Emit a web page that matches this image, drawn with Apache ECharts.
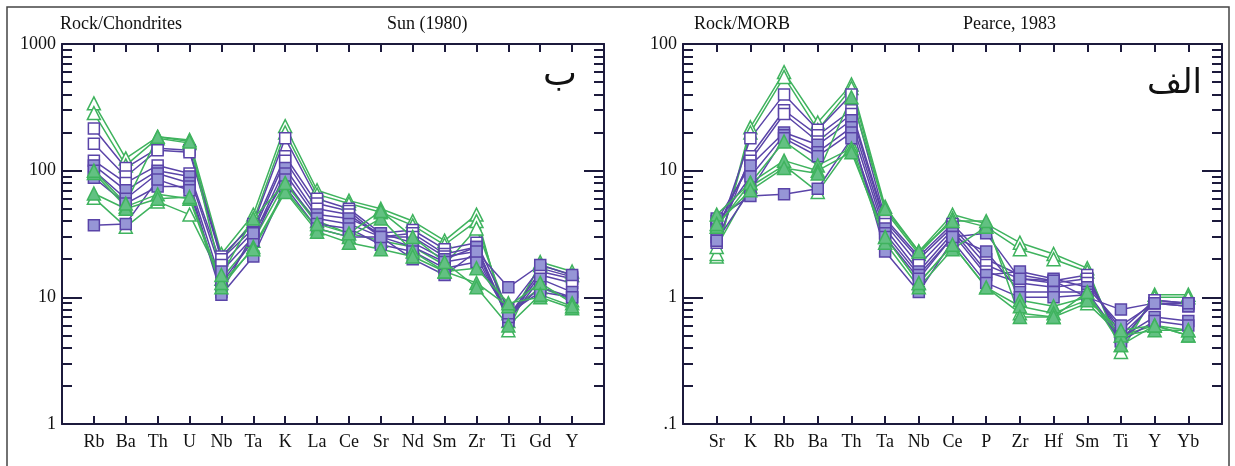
<!DOCTYPE html>
<html><head><meta charset="utf-8">
<script src="https://cdn.jsdelivr.net/npm/echarts@6/dist/echarts.min.js"></script>
<style>html,body{margin:0;padding:0;background:#fff}#c{width:1235px;height:466px}</style>
</head><body><div id="c"></div>
<script>
// ---- categories ----
const chondCategories = ['Rb','Ba','Th','U','Nb','Ta','K','La','Ce','Sr','Nd','Sm','Zr','Ti','Gd','Y'];
const morbCategories  = ['Sr','K','Rb','Ba','Th','Ta','Nb','Ce','P','Zr','Hf','Sm','Ti','Y','Yb'];
const chondTicks = ['1','10','100','1000'];
const morbTicks  = ['.1','1','10','100'];

// ---- Rock/Chondrites (Sun 1980) ----
const chondGO1 = [340,125,185,175,22,45,225,70,58,50,40,28,45,5.5,19,16];
const chondGO2 = [285,110,180,165,20,40,200,65,55,47,37,26,40,6.5,18,15];
const chondGO3 = [61,36,57,45,14,28,80,40,32,28,25,18,35,7.5,12,9.5];
const chondPO1 = [215,105,150,145,21,38,180,60,50,32,34,24,27,8,17,14.5];
const chondPO2 = [163,90,145,140,20,35,130,55,48,30,32,22,25,7,16,14];
const chondPO3 = [120,80,110,95,18,33,120,50,45,30,30,21,23,6.8,15,13];
const chondPF1 = [110,70,100,90,16,30,105,45,42,32,27,20,25,6.5,14,11];
const chondPF2 = [100,60,95,80,13,28,95,42,38,30,25,19,21,7,12,10];
const chondPF3 = [88,55,75,75,11,32,85,38,35,26,23,17,19,7.5,11,10];
const chondPF4 = [37,38,85,70,10.5,21,75,35,30,30,20,15,23,12,18,15];
const chondGF1 = [96,52,65,60,12,25,70,35,30,42,23,16,13,8.5,13,9];
const chondGF2 = [66,50,60,62,13,24,68,33,27,24,21,16,17,9,10,8.2];
const chondGF3 = [100,55,185,170,15,42,80,38,32,48,30,19,12,6,10.5,8.5];

// ---- Rock/MORB (Pearce 1983) ----
const morbGO1 = [2.1,22,60,24,48,5.2,2.3,4.5,3.8,2.7,2.2,1.7,0.37,1.05,1.05];
const morbGO2 = [2.2,20,55,21,45,4.8,2.2,4.2,3.6,2.4,2.0,1.6,0.42,1.0,1.0];
const morbGO3 = [2.5,7.5,11,6.8,16,3.0,1.3,2.6,1.2,0.75,0.7,0.9,0.5,0.6,0.5];
const morbPO1 = [3.0,18,40,21,40,4.2,2.1,3.8,2.0,1.5,1.35,1.5,0.45,0.95,0.9];
const morbPO2 = [2.7,13,30,19,30,4.0,2.0,3.6,1.8,1.4,1.3,1.4,0.5,0.9,0.85];
const morbPO3 = [3.5,12,28,17,28,3.8,1.8,3.4,1.6,1.3,1.2,1.3,0.55,0.95,0.9];
const morbPF1 = [4.0,11,20,16,25,3.5,1.6,3.2,1.5,1.6,1.4,1.2,0.6,0.9,0.85];
const morbPF2 = [3.8,9,19,14,22,3.2,1.5,3.0,2.3,1.1,1.1,1.1,0.48,0.7,0.65];
const morbPF3 = [2.8,7,18,13,20,2.3,1.1,2.8,1.3,1.0,1.0,1.05,0.45,0.65,0.6];
const morbPF4 = [4.2,6.3,6.5,7.2,18,3.0,1.4,3.0,3.2,1.4,1.35,1.0,0.8,0.9,0.9];
const morbGF1 = [4.5,8,17,11,15,2.7,1.2,2.4,3.6,0.95,0.85,1.0,0.5,0.55,0.55];
const morbGF2 = [3.6,8,12,10,14,3.0,1.3,2.6,1.2,0.85,0.75,0.95,0.55,0.6,0.5];
const morbGF3 = [3.8,7,10.5,9.5,38,5.0,2.3,4.0,4.0,0.7,0.7,1.1,0.42,0.6,0.55];

const PURPLE = '#5a44a8', PURPLE_FILL = '#9696d6';
const GREEN = '#3fb35e', GREEN_FILL = '#62c182';
const AX = '#1c1a3c';
const FONT = '"Liberation Serif", "DejaVu Serif", serif';

const styles = {
  GO: {line: GREEN, symbol: 'triangle', fill: '#ffffff'},
  GF: {line: GREEN, symbol: 'triangle', fill: GREEN_FILL},
  PO: {line: PURPLE, symbol: 'rect', fill: '#ffffff'},
  PF: {line: PURPLE, symbol: 'rect', fill: PURPLE_FILL}
};
const chondSet = {GO1:chondGO1,GO2:chondGO2,GO3:chondGO3,PO1:chondPO1,PO2:chondPO2,PO3:chondPO3,
  PF1:chondPF1,PF2:chondPF2,PF3:chondPF3,PF4:chondPF4,GF1:chondGF1,GF2:chondGF2,GF3:chondGF3};
const morbSet = {GO1:morbGO1,GO2:morbGO2,GO3:morbGO3,PO1:morbPO1,PO2:morbPO2,PO3:morbPO3,
  PF1:morbPF1,PF2:morbPF2,PF3:morbPF3,PF4:morbPF4,GF1:morbGF1,GF2:morbGF2,GF3:morbGF3};

// minor tick positions (in decades, for a tick-only linear axis)
function minorExp(lo, hi) {
  const out = [];
  for (let d = lo; d < hi - 1e-9; d += 1) for (let k = 2; k <= 9; k++) out.push(d + Math.log10(k));
  return out;
}

function xAxes(gi, cats, pos) {
  const idx = cats.map((_, i) => i);
  return {
    type: 'value', gridIndex: gi, position: pos, min: -1, max: cats.length,
    axisLine: {show: true, onZero: false, lineStyle: {color: AX, width: 2}},
    splitLine: {show: false},
    axisTick: {show: true, inside: true, length: 8, lineStyle: {color: AX, width: 2}, customValues: idx},
    axisLabel: {show: pos === 'bottom', customValues: idx, margin: 9,
      color: '#111', fontFamily: FONT, fontSize: 18,
      formatter: v => cats[Math.round(v)] || ''}
  };
}
function yAxes(gi, lo, hi, labels) {
  const eLo = Math.round(Math.log10(lo)), eHi = Math.round(Math.log10(hi));
  const major = {
    type: 'log', logBase: 10, gridIndex: gi, min: lo, max: hi,
    splitLine: {show: false},
    axisLine: {show: true, onZero: false, lineStyle: {color: AX, width: 2}},
    axisTick: {show: true, inside: true, length: 20, lineStyle: {color: AX, width: 2}}
  };
  const minor = {
    type: 'value', gridIndex: gi, min: eLo, max: eHi,
    splitLine: {show: false}, axisLine: {show: false, onZero: false},
    axisLabel: {show: false},
    axisTick: {show: true, inside: true, length: 10, lineStyle: {color: AX, width: 2}, customValues: minorExp(eLo, eHi)}
  };
  const labelFmt = v => {
    const e = Math.round(Math.log10(v) - eLo);
    return labels[e] !== undefined ? labels[e] : '';
  };
  return [
    Object.assign({}, major, {position: 'left',
      axisLabel: {show: true, margin: 6, color: '#111', fontFamily: FONT, fontSize: 18, formatter: labelFmt}}),
    Object.assign({}, minor, {position: 'left'}),
    Object.assign({}, major, {position: 'right', axisLabel: {show: false}}),
    Object.assign({}, minor, {position: 'right'})
  ];
}

const series = [];
function addSeries(set, cats, xi, yi) {
  Object.keys(set).forEach(key => {
    const st = styles[key.slice(0, 2)];
    series.push({
      type: 'line', name: key, xAxisIndex: xi, yAxisIndex: yi,
      data: set[key].map((v, i) => [i, v]),
      symbol: st.symbol, symbolSize: st.symbol === 'rect' ? 11 : 13,
      lineStyle: {color: st.line, width: 1.5},
      itemStyle: {color: st.fill, borderColor: st.line, borderWidth: 1.5},
      emphasis: {disabled: true}, animation: false
    });
  });
}
addSeries(chondSet, chondCategories, 0, 0);
addSeries(morbSet, morbCategories, 2, 4);

const txt = (x, y, t, size, fam, align) => ({type: 'text', x, y,
  style: {text: t, fill: '#111', font: size + 'px ' + fam, textAlign: align || 'left', textVerticalAlign: 'middle'}});

const option = {
  backgroundColor: '#fff',
  animation: false,
  grid: [
    {left: 62, top: 44, width: 542, height: 380},
    {left: 683, top: 44, width: 539, height: 380}
  ],
  xAxis: [
    xAxes(0, chondCategories, 'bottom'), xAxes(0, chondCategories, 'top'),
    xAxes(1, morbCategories, 'bottom'), xAxes(1, morbCategories, 'top')
  ],
  yAxis: [].concat(yAxes(0, 1, 1000, chondTicks), yAxes(1, 0.1, 100, morbTicks)),
  series: series,
  graphic: [
    {type: 'rect', shape: {x: 7, y: 7, width: 1222, height: 480},
      style: {fill: 'none', stroke: '#444', lineWidth: 1.5}},
    txt(60, 24, 'Rock/Chondrites', 18, FONT),
    txt(387, 24, 'Sun (1980)', 18, FONT),
    txt(694, 24, 'Rock/MORB', 18, FONT),
    txt(963, 24, 'Pearce, 1983', 18, FONT),
    txt(577, 76, 'ب', 36, '"DejaVu Sans"', 'right'),
    txt(1202, 84, 'الف', 34, '"DejaVu Sans"', 'right')
  ]
};
const chart = echarts.init(document.getElementById('c'), null, {renderer: 'canvas'});
chart.setOption(option);
</script></body></html>
